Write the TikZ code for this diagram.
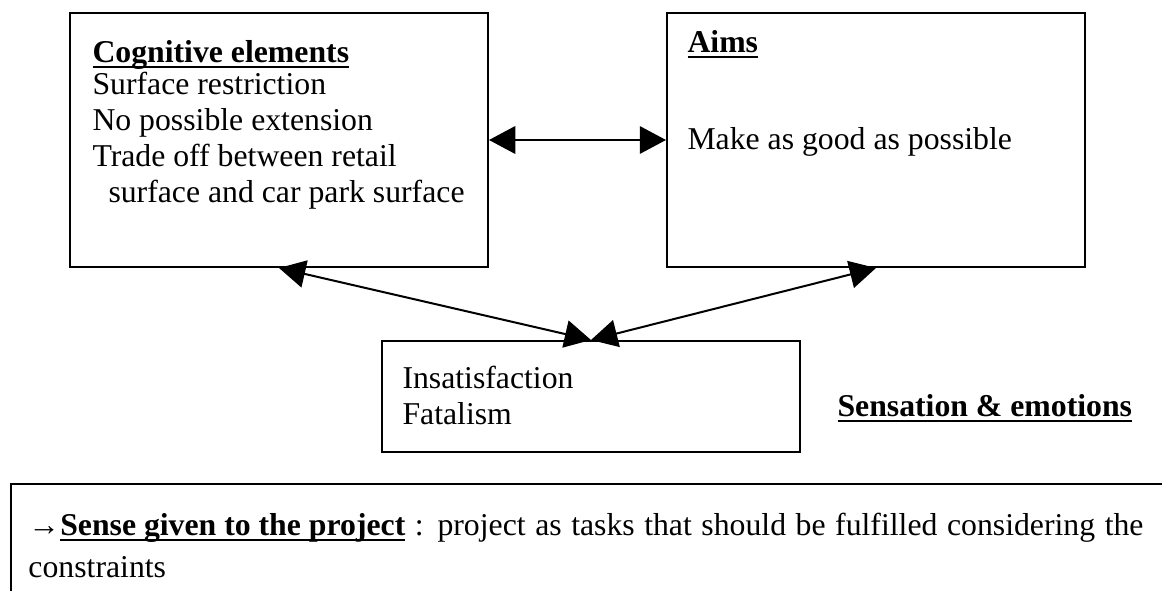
\documentclass[tikz,border=0pt]{standalone}
\usepackage{fontspec}
\setmainfont{Liberation Serif}
\usetikzlibrary{arrows.meta}
% underline at a fixed depth below the baseline
\newcommand\undl[1]{\setbox0\hbox{#1}\rlap{\rule[-2pt]{\wd0}{0.6pt}}\box0\relax}
\begin{document}
\begin{tikzpicture}[x=0.4pt,y=-0.4pt,
  box/.style={draw,line width=0.8pt,inner sep=0pt,anchor=north west},
  txt/.style={anchor=base west,inner sep=0pt,font=\fontsize{12.7pt}{15pt}\selectfont},
  biarrow/.style={line width=0.8pt,
    {Triangle[length=10.5pt,width=11pt]}-{Triangle[length=10.5pt,width=11pt]}}]
\useasboundingbox (0,0) rectangle (1162,591);
\clip (0,0) rectangle (1162,591);

% boxes
\node[box,minimum width=167.2pt,minimum height=101.6pt] (cog) at (69,12) {};
\node[box,minimum width=167.2pt,minimum height=101.6pt] (aims) at (666,12) {};
\node[box,minimum width=167.2pt,minimum height=44.4pt] (emo) at (381,340) {};
\node[box,minimum width=480pt,minimum height=60pt] (frame) at (10,483) {};

% cognitive elements
\node[txt] (cogT) at (92,63) {\undl{\textbf{Cognitive elements}}};
\node[txt] (cog1) at (92,95) {Surface restriction};
\node[txt] (cog2) at (92,131) {No possible extension};
\node[txt] (cog3) at (92,167) {Trade off between retail};
\node[txt] (cog4) at (108,203) {surface and car park surface};

% aims
\node[txt] (aimsT) at (687,53) {\undl{\textbf{Aims}}};
\node[txt] (aims1) at (687,150) {Make as good as possible};

% sensations
\node[txt] (emo1) at (402,389) {Insatisfaction};
\node[txt] (emo2) at (402,425) {Fatalism};
\node[txt] (emoT) at (837,417) {\undl{\textbf{Sensation \& emotions}}};

% sense given to the project
\node[txt] (sense1) at (28,536) {\makebox[446pt][s]{→\undl{\textbf{Sense given to the project}} : project as tasks that should be fulfilled considering the}};
\node[txt] (sense2) at (28,578) {constraints};

% connectors
\draw[biarrow] (cog.east) -- (aims.west);
\draw[biarrow] (cog.south) -- (emo.north);
\draw[biarrow] (aims.south) -- (emo.north);
\end{tikzpicture}
\end{document}
